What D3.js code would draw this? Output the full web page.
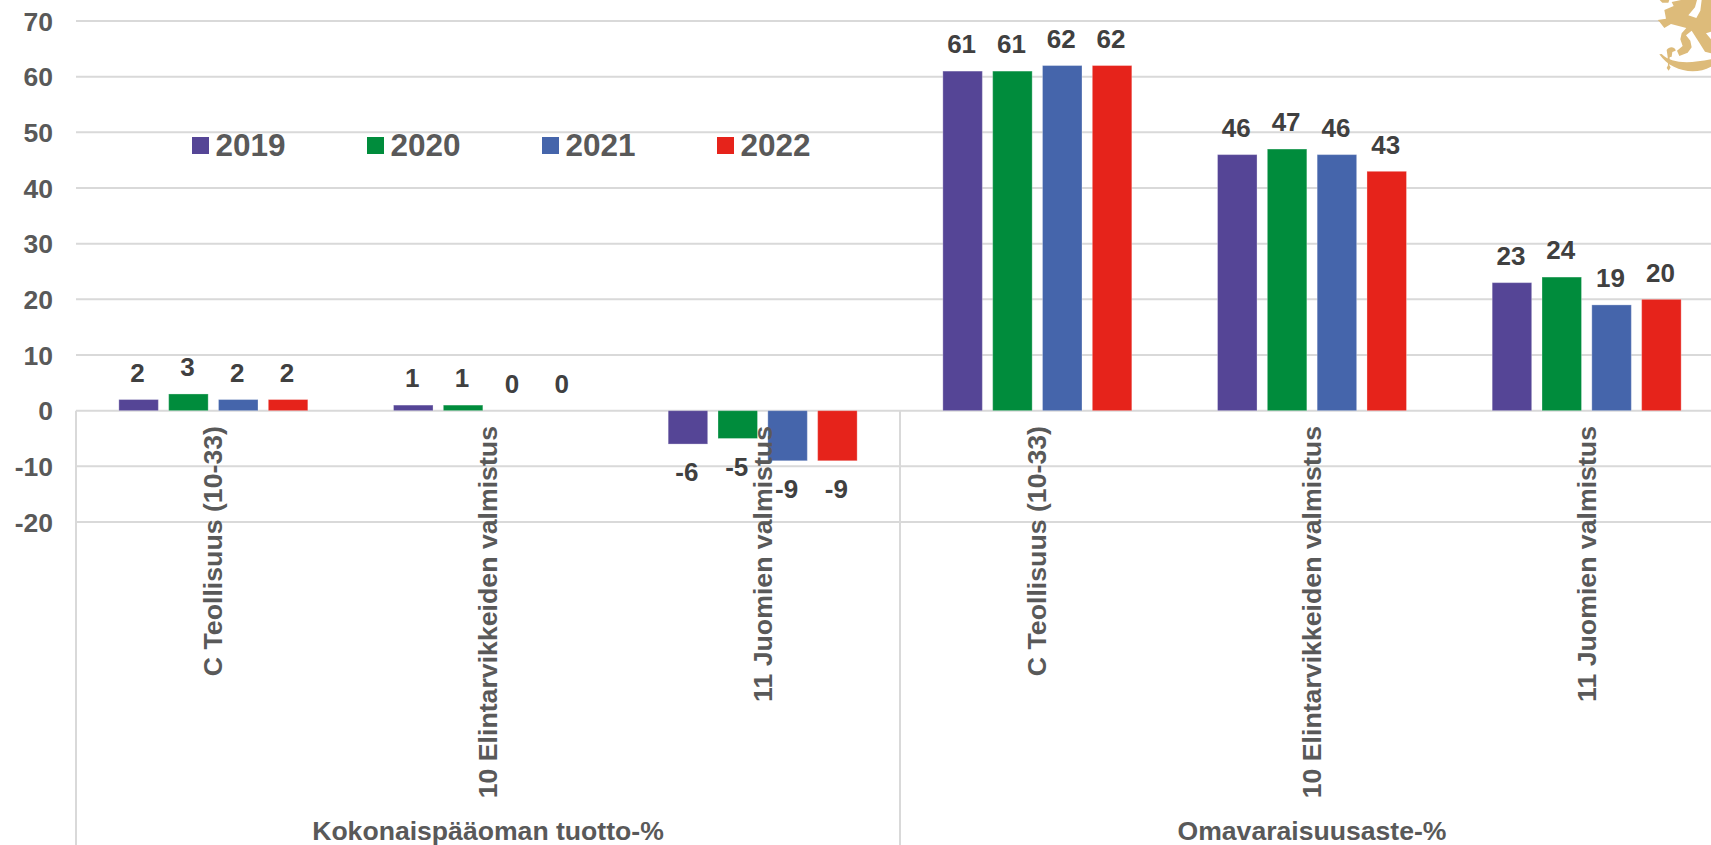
<!DOCTYPE html>
<html>
<head>
<meta charset="utf-8">
<script src="https://d3js.org/d3.v7.min.js"></script>
<style>
  html, body { margin: 0; padding: 0; background: #fff; overflow: hidden; }
  text { font-family: "Liberation Sans", Arial, sans-serif; font-weight: bold; }
</style>
</head>
<body>
<script>
// values
var measures = ["Kokonaispääoman tuotto-%", "Omavaraisuusaste-%"];
var branches = ["C Teollisuus (10-33)", "10 Elintarvikkeiden valmistus", "11 Juomien valmistus"];
var years = ["2019", "2020", "2021", "2022"];
var yearColors = ["#554596", "#008C3C", "#4565AB", "#E6231B"];
var yTicks = [70, 60, 50, 40, 30, 20, 10, 0, -10, -20];

var tuotto2019 = [2, 1, -6];
var tuotto2020 = [3, 1, -5];
var tuotto2021 = [2, 0, -9];
var tuotto2022 = [2, 0, -9];
var omavara2019 = [61, 46, 23];
var omavara2020 = [61, 47, 24];
var omavara2021 = [62, 46, 19];
var omavara2022 = [62, 43, 20];

var seriesByYear = [
  tuotto2019.concat(omavara2019),
  tuotto2020.concat(omavara2020),
  tuotto2021.concat(omavara2021),
  tuotto2022.concat(omavara2022)
];

var width = 1711, height = 845;
var left = 76, groupWidth = 824;

var svg = d3.select("body").append("svg")
  .attr("width", width)
  .attr("height", height);

var y = d3.scaleLinear().domain([-20, 70]).range([522, 21]);

var slots = d3.range(6);
var x0 = d3.scaleBand().domain(slots).range([left, left + 2 * groupWidth]);
var x1 = d3.scaleBand().domain(d3.range(4))
  .range([0, x0.bandwidth()]).paddingInner(0.207).paddingOuter(0.86);
var xGroup = d3.scaleBand().domain(measures).range([left, left + 2 * groupWidth]);

// gridlines
svg.append("g").selectAll("line").data(yTicks).enter().append("line")
  .attr("x1", left).attr("x2", width)
  .attr("y1", function (d) { return y(d); })
  .attr("y2", function (d) { return y(d); })
  .attr("stroke", "#D9D9D9").attr("stroke-width", 2);

// group separators under the zero line
svg.append("g").selectAll("line").data([0, 1]).enter().append("line")
  .attr("x1", function (d) { return left + d * groupWidth; })
  .attr("x2", function (d) { return left + d * groupWidth; })
  .attr("y1", y(0)).attr("y2", height)
  .attr("stroke", "#D9D9D9").attr("stroke-width", 2);

// y labels
svg.append("g").selectAll("text").data(yTicks).enter().append("text")
  .attr("x", 53).attr("y", function (d) { return y(d); })
  .attr("dy", "0.36em").attr("text-anchor", "end")
  .attr("font-size", 26.5).attr("fill", "#595959")
  .text(function (d) { return d; });

// bars
var bars = svg.append("g").selectAll("g").data(seriesByYear).enter().append("g");
bars.selectAll("rect").data(function (d, i) {
    return d.map(function (v, j) { return { year: i, slot: j, value: v }; });
  }).enter().append("rect")
  .attr("x", function (d) { return x0(d.slot) + x1(d.year); })
  .attr("width", x1.bandwidth())
  .attr("y", function (d) { return y(Math.max(0, d.value)); })
  .attr("height", function (d) { return Math.abs(y(d.value) - y(0)); })
  .attr("fill", function (d) { return yearColors[d.year]; })
  .attr("stroke", "#fff").attr("stroke-opacity", 0.3);

// branch labels, rotated
svg.append("g").selectAll("text").data(slots).enter().append("text")
  .attr("transform", function (d) {
    return "translate(" + (x0(d) + x0.bandwidth() / 2 - 0.5) + ",426) rotate(-90)";
  })
  .attr("dy", "0.36em").attr("text-anchor", "end")
  .attr("font-size", 26.7).attr("fill", "#595959")
  .text(function (d) { return branches[d % 3]; });

// value labels
bars.selectAll("text").data(function (d, i) {
    return d.map(function (v, j) { return { year: i, slot: j, value: v }; });
  }).enter().append("text")
  .attr("x", function (d) { return x0(d.slot) + x1(d.year) + x1.bandwidth() / 2 - 1; })
  .attr("y", function (d) { return d.value < 0 ? y(d.value) + 28 : y(d.value) - 27; })
  .attr("dy", "0.36em").attr("text-anchor", "middle")
  .attr("font-size", 26).attr("fill", "#404040")
  .text(function (d) { return d.value; });

// group labels
svg.append("g").selectAll("text").data(measures).enter().append("text")
  .attr("x", function (d) { return xGroup(d) + xGroup.bandwidth() / 2; })
  .attr("y", 840).attr("text-anchor", "middle")
  .attr("font-size", 26.6).attr("fill", "#595959")
  .text(function (d) { return d; });

// legend
var legendX = d3.scaleLinear().domain([0, 3]).range([192, 717]);
var legend = svg.append("g").selectAll("g").data(years).enter().append("g")
  .attr("transform", function (d, i) { return "translate(" + legendX(i) + ",137)"; });
legend.append("rect").attr("width", 17).attr("height", 17)
  .attr("fill", function (d, i) { return yearColors[i]; });
legend.append("text").attr("x", 23.5).attr("y", 19)
  .attr("font-size", 31.5).attr("fill", "#595959")
  .text(function (d) { return d; });

// lion emblem in the corner
var lion = svg.append("g").attr("transform", "translate(1631,0) scale(0.3333)").attr("fill", "#DDBB7A");
lion.append("path").attr("d", "M80 60 L105 56 L100 30 L128 18 L122 6 L150 0 L198 0 L192 22 L172 46 L196 54 L208 32 L212 0 L240 0 L240 95 L225 100 L240 118 L240 160 L222 155 L205 128 L182 92 L165 106 L178 122 L182 142 L170 158 L145 168 L138 152 L155 138 L148 118 L152 100 L166 84 L120 72 L100 84 L86 66 Z");
lion.append("path").attr("d", "M85 163 L92 162 C120 190 170 192 240 178 L240 200 C190 228 118 212 85 163 Z");
lion.append("path").attr("d", "M107 150 C116 136 134 142 134 152 L124 156 L122 170 L116 172 L115 196 L119 202 L113 212 L107 204 L111 196 L110 170 Z");
lion.append("path").attr("d", "M86 0 L115 0 L112 8 L94 8 Z");
</script>
</body>
</html>
